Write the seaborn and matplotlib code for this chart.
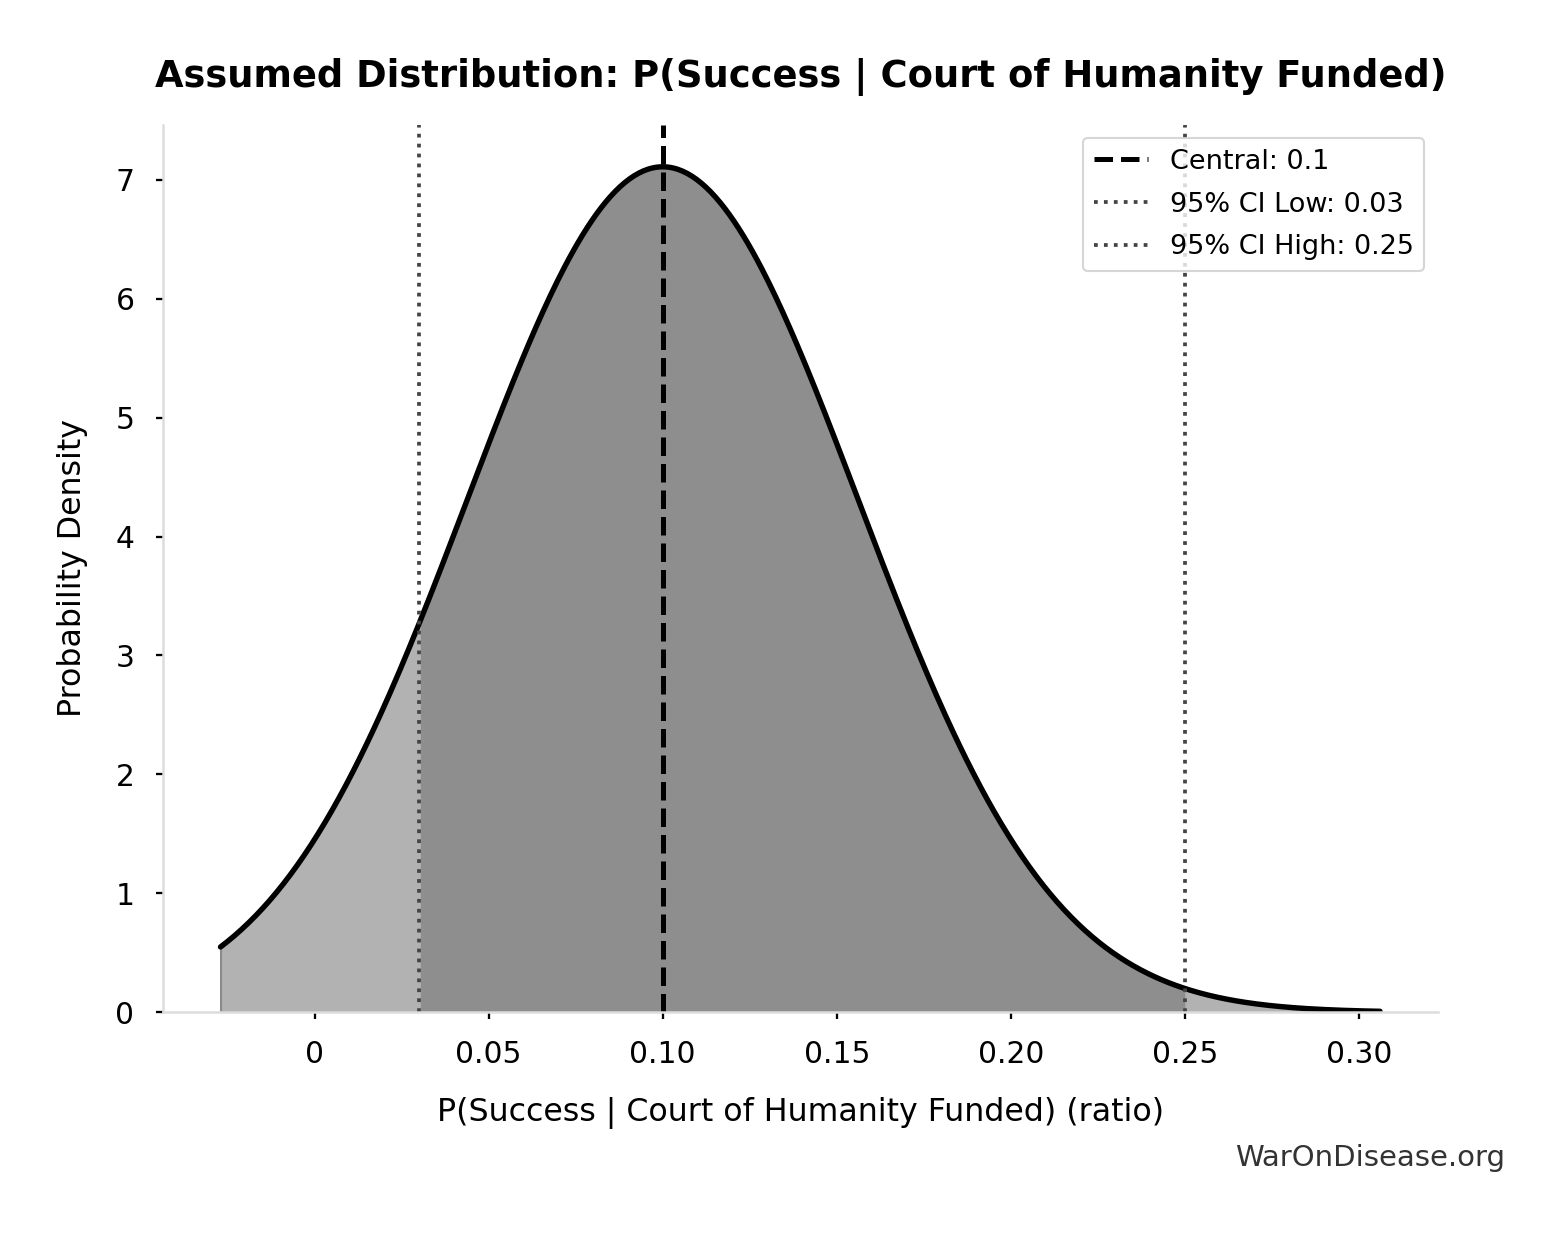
import numpy as np
import pandas as pd
import matplotlib
matplotlib.use("Agg")
import matplotlib.pyplot as plt
import seaborn as sns

sns.set_theme(style="ticks")
plt.rcParams['font.family'] = ['DejaVu Sans']
plt.rcParams.update({'text.color': 'black', 'axes.labelcolor': 'black',
                     'xtick.color': 'black', 'ytick.color': 'black'})

# distribution parameters
central = 0.10
ci_low = 0.03
ci_high = 0.25
# extent of the plotted curve
x_start = -0.027
x_end = 0.306

x_ticks = [0, 0.05, 0.10, 0.15, 0.20, 0.25, 0.30]
x_tick_labels = ['0', '0.05', '0.10', '0.15', '0.20', '0.25', '0.30']
y_ticks = [0, 1, 2, 3, 4, 5, 6, 7]

# assumed normal: 95% CI spans +/- 1.96 sigma
sigma = (ci_high - ci_low) / (2 * 1.96)
xs = np.linspace(x_start, x_end, 500)
dens = np.exp(-0.5 * ((xs - central) / sigma) ** 2) / (sigma * np.sqrt(2 * np.pi))
df = pd.DataFrame({'x': xs, 'density': dens})

fig = plt.figure(figsize=(1563 / 150, 1233 / 150), dpi=150)
ax = fig.add_axes([0.104, 0.179, 0.816, 0.720])

ax.fill_between(df['x'], df['density'], color='#b2b2b2', edgecolor='#8a8a8a', linewidth=1)
inside = df[(df['x'] >= ci_low) & (df['x'] <= ci_high)]
ax.fill_between(inside['x'], inside['density'], color='#8e8e8e', linewidth=0)
sns.lineplot(data=df, x='x', y='density', color='black', linewidth=2.6, ax=ax)

ax.axvline(central, color='black', linestyle='--', linewidth=2.4, label=f'Central: {central:g}')
ax.axvline(ci_low, color='#444444', linestyle=':', linewidth=1.8, label=f'95% CI Low: {ci_low:g}')
ax.axvline(ci_high, color='#444444', linestyle=':', linewidth=1.8, label=f'95% CI High: {ci_high:g}')

ax.set_ylim(bottom=0)
ax.set_xticks(x_ticks)
ax.set_xticklabels(x_tick_labels)
ax.set_yticks(y_ticks)
ax.tick_params(labelsize=14.3, length=3.5, width=1.1, pad=10)

ax.set_xlabel('P(Success | Court of Humanity Funded) (ratio)', fontsize=15.2, labelpad=13)
ax.set_ylabel('Probability Density', fontsize=15.2, labelpad=13)
ax.set_title('Assumed Distribution: P(Success | Court of Humanity Funded)',
             fontsize=17.7, fontweight='bold', pad=18)

sns.despine(ax=ax)
for s in ['left', 'bottom']:
    ax.spines[s].set_color('#dddddd')
    ax.spines[s].set_linewidth(1.2)

ax.legend(loc='upper right', fontsize=13, frameon=True, edgecolor='#cccccc',
          handlelength=2.0, labelspacing=0.62)

fig.text(0.963, 0.061, 'WarOnDisease.org', ha='right', va='center', fontsize=14, color='#333333')

fig.savefig('out.png', dpi=150)
